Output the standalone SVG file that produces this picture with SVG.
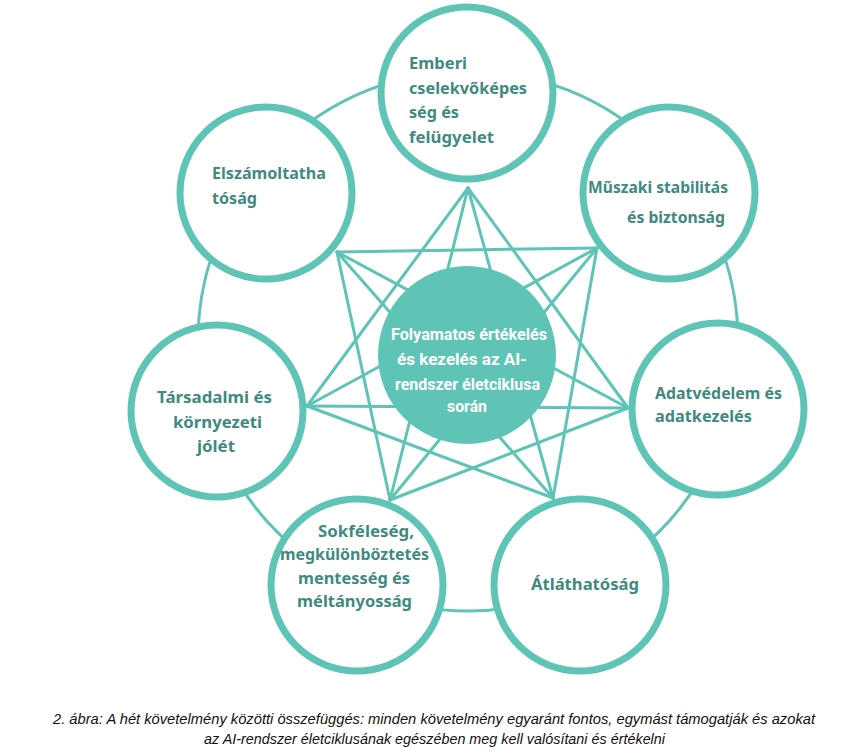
<svg xmlns="http://www.w3.org/2000/svg" width="847" height="751" viewBox="0 0 847 751">
<style>
.ring{fill:none;stroke:#5ec4b6;stroke-width:3}
.ln{stroke:#5ec4b6;stroke-width:3;stroke-linecap:round}
.node{fill:#ffffff;stroke:#5ec4b6;stroke-width:7}
.ctr{fill:#5ec4b6;stroke:none}
.lbl{font-family:"Noto Sans","Open Sans",sans-serif;font-weight:bold;font-size:16.5px;fill:#3e8a80}
.clbl{font-family:"Roboto","Noto Sans",sans-serif;font-weight:bold;font-size:16px;fill:#ffffff}
.cap{font-family:"Liberation Sans",sans-serif;font-style:italic;font-size:14px;fill:#111111}
</style>
<rect width="847" height="751" fill="#ffffff"/>
<circle class="ring" cx="468" cy="341" r="270"/>
<g id="connectors">
<line class="ln" x1="468" y1="188" x2="628" y2="408"/>
<line class="ln" x1="468" y1="188" x2="553" y2="498"/>
<line class="ln" x1="468" y1="188" x2="390" y2="500"/>
<line class="ln" x1="468" y1="188" x2="307" y2="406"/>
<line class="ln" x1="597" y1="248" x2="553" y2="498"/>
<line class="ln" x1="597" y1="248" x2="390" y2="500"/>
<line class="ln" x1="597" y1="248" x2="307" y2="406"/>
<line class="ln" x1="597" y1="248" x2="337" y2="252"/>
<line class="ln" x1="628" y1="408" x2="390" y2="500"/>
<line class="ln" x1="628" y1="408" x2="307" y2="406"/>
<line class="ln" x1="628" y1="408" x2="337" y2="252"/>
<line class="ln" x1="553" y1="498" x2="307" y2="406"/>
<line class="ln" x1="553" y1="498" x2="337" y2="252"/>
<line class="ln" x1="390" y1="500" x2="337" y2="252"/>
</g>
<g id="node-emberi">
<circle class="node" cx="467" cy="93" r="86"/>
<text class="lbl"><tspan x="409" y="69" textLength="58" lengthAdjust="spacingAndGlyphs">Emberi</tspan><tspan x="409" y="94" textLength="118" lengthAdjust="spacingAndGlyphs">cselekvőképes</tspan><tspan x="409" y="118" textLength="50" lengthAdjust="spacingAndGlyphs">ség és</tspan><tspan x="409" y="143" textLength="85" lengthAdjust="spacingAndGlyphs">felügyelet</tspan></text>
</g>
<g id="node-muszaki">
<circle class="node" cx="669" cy="193" r="86"/>
<text class="lbl"><tspan x="588" y="193" textLength="140" lengthAdjust="spacingAndGlyphs">Műszaki stabilitás</tspan><tspan x="627" y="223" textLength="98" lengthAdjust="spacingAndGlyphs">és biztonság</tspan></text>
</g>
<g id="node-adatvedelem">
<circle class="node" cx="718" cy="409" r="86"/>
<text class="lbl"><tspan x="655" y="399" textLength="127" lengthAdjust="spacingAndGlyphs">Adatvédelem és</tspan><tspan x="655" y="422" textLength="97" lengthAdjust="spacingAndGlyphs">adatkezelés</tspan></text>
</g>
<g id="node-atlathatosag">
<circle class="node" cx="580" cy="585" r="86"/>
<text class="lbl"><tspan x="531" y="590" textLength="108" lengthAdjust="spacingAndGlyphs">Átláthatóság</tspan></text>
</g>
<g id="node-sokfeleseg">
<circle class="node" cx="357" cy="585" r="86"/>
<text class="lbl"><tspan x="318" y="537" textLength="96" lengthAdjust="spacingAndGlyphs">Sokféleség,</tspan><tspan x="280" y="560" textLength="149" lengthAdjust="spacingAndGlyphs">megkülönböztetés</tspan><tspan x="298" y="584" textLength="112" lengthAdjust="spacingAndGlyphs">mentesség és</tspan><tspan x="297" y="607" textLength="115" lengthAdjust="spacingAndGlyphs">méltányosság</tspan></text>
</g>
<g id="node-tarsadalmi">
<circle class="node" cx="217" cy="411" r="86"/>
<text class="lbl"><tspan x="157" y="403" textLength="115" lengthAdjust="spacingAndGlyphs">Társadalmi és</tspan><tspan x="173" y="428" textLength="89" lengthAdjust="spacingAndGlyphs">környezeti</tspan><tspan x="197" y="452" textLength="38" lengthAdjust="spacingAndGlyphs">jólét</tspan></text>
</g>
<g id="node-elszamoltathatosag">
<circle class="node" cx="266" cy="193" r="86"/>
<text class="lbl"><tspan x="212" y="179" textLength="114" lengthAdjust="spacingAndGlyphs">Elszámoltatha</tspan><tspan x="212" y="204" textLength="45" lengthAdjust="spacingAndGlyphs">tóság</tspan></text>
</g>
<g id="node-center">
<circle class="ctr" cx="467" cy="355" r="89"/>
<text class="clbl"><tspan x="391" y="340" textLength="156" lengthAdjust="spacingAndGlyphs">Folyamatos  értékelés</tspan><tspan x="397" y="365" textLength="130" lengthAdjust="spacingAndGlyphs">és kezelés az AI-</tspan><tspan x="395" y="390" textLength="145" lengthAdjust="spacingAndGlyphs">rendszer életciklusa</tspan><tspan x="447" y="412" textLength="40" lengthAdjust="spacingAndGlyphs">során</tspan></text>
</g>
<g id="caption">
<text class="cap"><tspan x="53" y="724" textLength="762" lengthAdjust="spacingAndGlyphs">2. ábra: A hét követelmény közötti összefüggés: minden követelmény egyaránt fontos, egymást támogatják és azokat</tspan><tspan x="204" y="744" textLength="461" lengthAdjust="spacingAndGlyphs">az AI-rendszer életciklusának egészében meg kell valósítani és értékelni</tspan></text>
</g>
</svg>
